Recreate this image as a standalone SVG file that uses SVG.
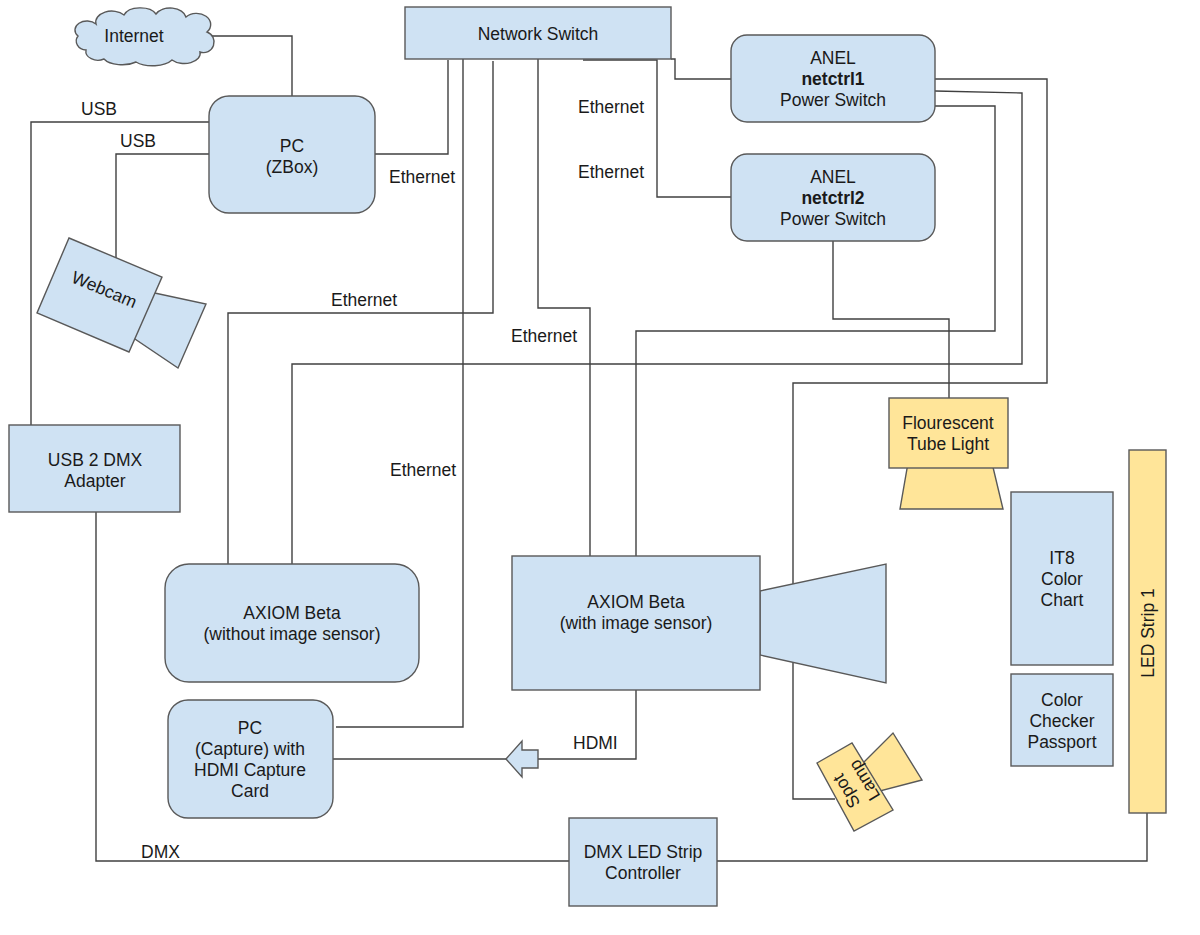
<svg xmlns="http://www.w3.org/2000/svg" width="1200" height="935" viewBox="0 0 1200 935">
<style>
text{font-family:"Liberation Sans",Arial,sans-serif;font-size:17.5px;fill:#1a1a1a}
.c{text-anchor:middle}
.b{font-weight:bold}
.blue{fill:#cfe2f3;stroke:#595959;stroke-width:1.4}
.yel{fill:#ffe599;stroke:#595959;stroke-width:1.4}
.ln{fill:none;stroke:#404040;stroke-width:1.4}
</style>
<rect width="1200" height="935" fill="#fff"/>
<g id="connectors" class="ln">
<path d="M208,36 H292 V96"/>
<path d="M209,122 H31 V425"/>
<path d="M209,154 H116 V258"/>
<path d="M375,154 H448 V60"/>
<path d="M463,59 V727 H336"/>
<path d="M493,61 V313 H228 V564"/>
<path d="M538,59 V308 H590 V556"/>
<path d="M583,60 H657 V197 H731"/>
<path d="M671,59 H675 V79 H731"/>
<path d="M935,79 H1047 V383 H793 V799 H835"/>
<path d="M935,91 L1022,93 V364 H292 V564"/>
<path d="M935,106 H995 V331 H636 V556"/>
<path d="M833,241 V319 H949 V398"/>
<path d="M96,512 V861 H569"/>
<path d="M1147,813 V861 H717"/>
<path d="M636,690 V759 H538"/>
<path d="M506,759 H333"/>
</g>
<g id="labels">
<text x="81" y="115">USB</text>
<text x="120" y="147">USB</text>
<text x="389" y="183">Ethernet</text>
<text x="331" y="306">Ethernet</text>
<text x="578" y="113">Ethernet</text>
<text x="578" y="178">Ethernet</text>
<text x="511" y="342">Ethernet</text>
<text x="390" y="476">Ethernet</text>
<text x="573" y="749">HDMI</text>
<text x="141" y="858">DMX</text>
</g>
<g id="internet">
<path class="blue" d="M86,50 A10,9 0 0 1 78,36 A12,9 0 0 1 96,24 A16,11 0 0 1 124,15 A17,10 0 0 1 156,14 A16,11 0 0 1 186,17 A14,11 0 0 1 207,32 A10,10 0 0 1 200,52 A16,10 0 0 1 172,60 A22,11 0 0 1 136,62 A20,10 0 0 1 104,59 A12,9 0 0 1 86,50 Z"/>
<text class="c" x="134" y="42">Internet</text>
</g>
<g id="pc-zbox">
<rect class="blue" x="209" y="96" width="166" height="117" rx="20"/>
<text class="c" x="292" y="152">PC</text>
<text class="c" x="292" y="173">(ZBox)</text>
</g>
<g id="network-switch">
<rect class="blue" x="405" y="7" width="266" height="52"/>
<text class="c" x="538" y="40">Network Switch</text>
</g>
<g id="netctrl1">
<rect class="blue" x="731" y="35" width="204" height="87" rx="16"/>
<text class="c" x="833" y="64">ANEL</text>
<text class="c b" x="833" y="85">netctrl1</text>
<text class="c" x="833" y="106">Power Switch</text>
</g>
<g id="netctrl2">
<rect class="blue" x="731" y="154" width="204" height="87" rx="16"/>
<text class="c" x="833" y="183">ANEL</text>
<text class="c b" x="833" y="204">netctrl2</text>
<text class="c" x="833" y="225">Power Switch</text>
</g>
<g id="webcam">
<polygon class="blue" points="150,292 206,304 178,368 132,337"/>
<polygon class="blue" points="69,238 162,277 129,352 37,313"/>
<text class="c" transform="translate(102,295) rotate(22.7)" x="0" y="0">Webcam</text>
</g>
<g id="usb2dmx">
<rect class="blue" x="9" y="425" width="171" height="87"/>
<text class="c" x="95" y="466">USB 2 DMX</text>
<text class="c" x="95" y="487">Adapter</text>
</g>
<g id="fluorescent">
<polygon class="yel" points="908,463 992,463 1003,509 900,509"/>
<rect class="yel" x="889" y="398" width="119" height="70"/>
<text class="c" x="948" y="429">Flourescent</text>
<text class="c" x="948" y="450">Tube Light</text>
</g>
<g id="axiom-without">
<rect class="blue" x="165" y="564" width="254" height="118" rx="24"/>
<text class="c" x="292" y="619">AXIOM Beta</text>
<text class="c" x="292" y="640">(without image sensor)</text>
</g>
<g id="axiom-with">
<polygon class="blue" points="760,591 886,564 886,683 760,655"/>
<rect class="blue" x="512" y="556" width="248" height="134"/>
<text class="c" x="636" y="608">AXIOM Beta</text>
<text class="c" x="636" y="629">(with image sensor)</text>
</g>
<g id="pc-capture">
<rect class="blue" x="168" y="700" width="165" height="118" rx="20"/>
<text class="c" x="250" y="734">PC</text>
<text class="c" x="250" y="755">(Capture) with</text>
<text class="c" x="250" y="776">HDMI Capture</text>
<text class="c" x="250" y="797">Card</text>
</g>
<g id="hdmi-arrow">
<polygon class="blue" points="506,759 522,741 522,750 538,750 538,768 522,768 522,777"/>
</g>
<g id="spot-lamp">
<polygon class="yel" points="863,763 893,733 922,780 880,791"/>
<polygon class="yel" points="817,763 852,743 893,810 854,831"/>
<g transform="translate(855,786) rotate(-121)">
<text class="c" x="0" y="-4">Spot</text>
<text class="c" x="0" y="17">Lamp</text>
</g>
</g>
<g id="it8">
<rect class="blue" x="1011" y="492" width="102" height="173"/>
<text class="c" x="1062" y="564">IT8</text>
<text class="c" x="1062" y="585">Color</text>
<text class="c" x="1062" y="606">Chart</text>
</g>
<g id="color-checker">
<rect class="blue" x="1011" y="674" width="102" height="92"/>
<text class="c" x="1062" y="706">Color</text>
<text class="c" x="1062" y="727">Checker</text>
<text class="c" x="1062" y="748">Passport</text>
</g>
<g id="led-strip">
<rect class="yel" x="1129" y="450" width="37" height="363"/>
<text class="c" transform="rotate(-90,1154,633)" x="1154" y="633">LED Strip 1</text>
</g>
<g id="dmx-controller">
<rect class="blue" x="569" y="818" width="148" height="88"/>
<text class="c" x="643" y="858">DMX LED Strip</text>
<text class="c" x="643" y="879">Controller</text>
</g>
</svg>
